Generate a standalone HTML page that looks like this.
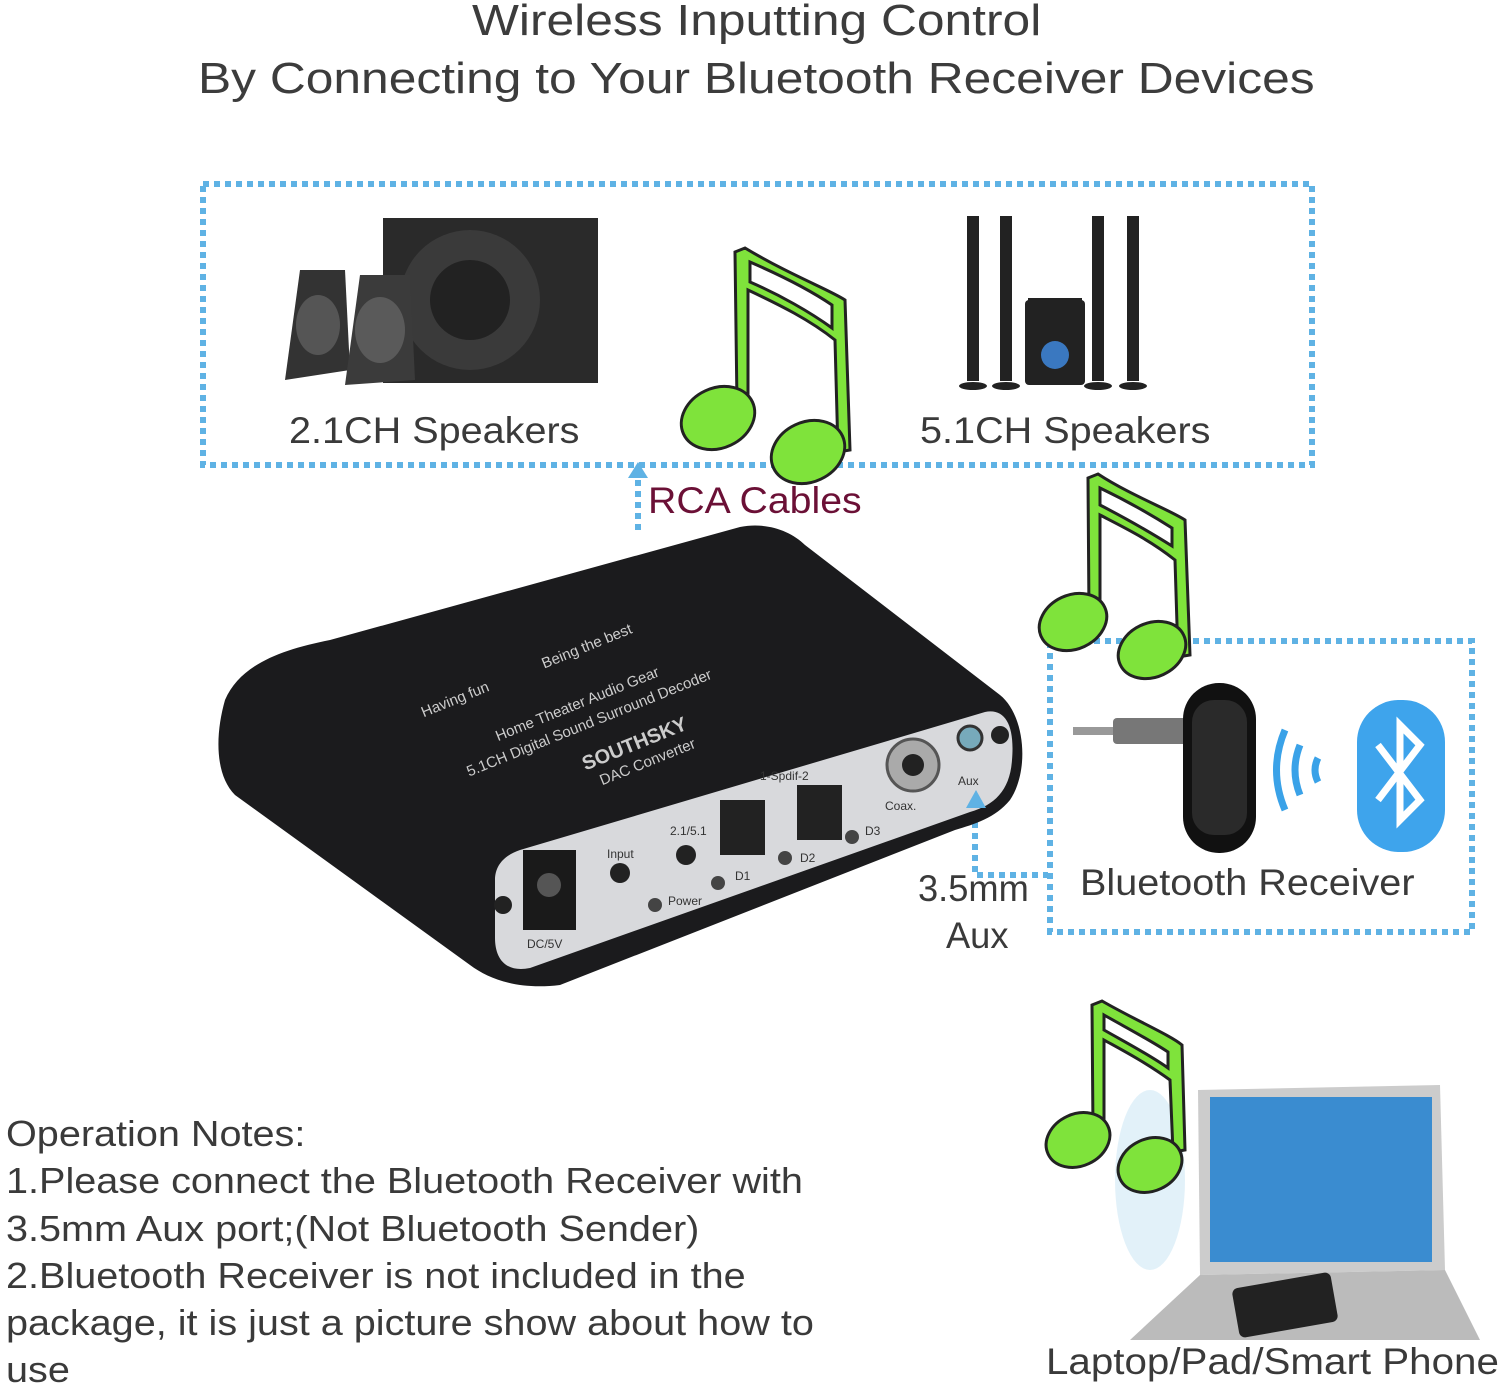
<!DOCTYPE html>
<html><head><meta charset="utf-8"><style>
body{margin:0;background:#fff;}
.c{position:relative;width:1500px;height:1390px;overflow:hidden;font-family:"Liberation Sans",sans-serif;color:#3a3a3a;}
.t{position:absolute;white-space:nowrap;transform-origin:0 0;}
</style></head><body><div class="c">
<div class="t" style="left:472px;top:-4px;font-size:44px;color:#3c3c3c;transform:scaleX(1.13)">Wireless Inputting Control</div>
<div class="t" style="left:198px;top:54px;font-size:44px;color:#3c3c3c;transform:scaleX(1.13)">By Connecting to Your Bluetooth Receiver Devices</div>
<svg width="1500" height="1390" style="position:absolute;left:0;top:0">
<g stroke="#5fb2e4" stroke-width="6" stroke-dasharray="6 5" fill="none">
<rect x="203" y="184" width="1109" height="281"/>
<rect x="1050" y="641" width="422" height="291"/>
<path d="M638,530 L638,470"/>
<path d="M975,800 L975,875 L1048,875"/>
</g>
<path d="M628,478 L638,462 L648,478Z" fill="#5fb2e4"/>
<!-- speakers 2.1 -->
<rect x="383" y="218" width="215" height="165" fill="#2a2a2a"/>
<circle cx="470" cy="300" r="70" fill="#3a3a3a"/><circle cx="470" cy="300" r="40" fill="#222"/>
<path d="M300,270 L345,270 L350,370 L285,380Z" fill="#333"/>
<ellipse cx="318" cy="325" rx="22" ry="30" fill="#555"/>
<path d="M360,275 L410,275 L415,380 L345,385Z" fill="#3b3b3b"/>
<ellipse cx="380" cy="330" rx="25" ry="33" fill="#5a5a5a"/>
<!-- 5.1 speakers -->
<g fill="#222">
<rect x="967" y="216" width="12" height="165"/><rect x="1000" y="216" width="12" height="165"/>
<rect x="1092" y="216" width="12" height="165"/><rect x="1127" y="216" width="12" height="165"/>
<ellipse cx="973" cy="386" rx="14" ry="4"/><ellipse cx="1006" cy="386" rx="14" ry="4"/>
<ellipse cx="1098" cy="386" rx="14" ry="4"/><ellipse cx="1133" cy="386" rx="14" ry="4"/>
<rect x="1025" y="300" width="60" height="85" rx="4"/><rect x="1028" y="298" width="54" height="18"/>
</g>
<circle cx="1055" cy="355" r="14" fill="#3a78c0"/>
<!-- device -->
<path d="M225,700 C240,665 280,650 330,640 L740,527 C765,522 790,530 805,545 L1000,695 C1025,715 1030,770 1010,800 C995,818 975,824 955,830 L560,985 C520,990 490,980 470,965 L235,795 C215,775 215,735 225,700Z" fill="#1b1b1d"/>
<path d="M520,850 L985,712 C1005,708 1015,725 1012,760 C1010,790 995,805 970,812 L530,968 C505,973 495,958 495,938 L495,880 C495,865 505,855 520,850Z" fill="#d8d9dc"/>
<rect x="523" y="850" width="53" height="80" fill="#1a1a1a"/><circle cx="549" cy="885" r="12" fill="#555"/>
<rect x="720" y="800" width="45" height="55" fill="#222"/><rect x="797" y="785" width="45" height="55" fill="#222"/>
<circle cx="913" cy="765" r="26" fill="#aaa" stroke="#555" stroke-width="3"/><circle cx="913" cy="765" r="11" fill="#222"/>
<circle cx="970" cy="738" r="12" fill="#7ab" stroke="#333" stroke-width="3"/>
<circle cx="1000" cy="735" r="9" fill="#222"/><circle cx="503" cy="905" r="9" fill="#222"/>
<circle cx="620" cy="873" r="10" fill="#222"/><circle cx="686" cy="855" r="10" fill="#222"/>
<circle cx="655" cy="905" r="7" fill="#444"/><circle cx="718" cy="883" r="7" fill="#444"/><circle cx="785" cy="858" r="7" fill="#444"/><circle cx="852" cy="837" r="7" fill="#444"/>
<g fill="#ccc" font-size="15" font-family="Liberation Sans" transform="rotate(-22 600 700)">
<text x="430" y="650">Having fun</text><text x="560" y="650">Being the best</text>
<text x="490" y="700">Home Theater Audio Gear</text><text x="450" y="722">5.1CH Digital Sound Surround Decoder</text>
<text x="560" y="760" font-size="20" font-weight="bold">SOUTHSKY</text><text x="570" y="780">DAC Converter</text>
</g>
<g fill="#333" font-size="12" font-family="Liberation Sans"><text x="527" y="948">DC/5V</text><text x="607" y="858">Input</text><text x="670" y="835">2.1/5.1</text><text x="760" y="780">1-Spdif-2</text><text x="885" y="810">Coax.</text><text x="668" y="905">Power</text><text x="735" y="880">D1</text><text x="800" y="862">D2</text><text x="865" y="835">D3</text><text x="958" y="785">Aux</text></g>
<path d="M966,808 L976,790 L986,808Z" fill="#5fb2e4"/>
<!-- music notes -->
<g fill="#7fe33b" stroke="#222" stroke-width="3">
<path d="M735,252 L745,248 C790,275 830,290 845,300 L850,450 L838,452 L835,340 C810,320 780,305 748,290 L748,405 L737,405Z"/>
<path d="M750,262 L750,282 C780,295 810,312 832,328 L832,305 C810,290 780,275 750,262Z" fill="#fff"/>
<ellipse cx="718" cy="418" rx="38" ry="30" transform="rotate(-25 718 418)"/>
<ellipse cx="808" cy="452" rx="38" ry="30" transform="rotate(-25 808 452)"/>
<path d="M1088,478 L1098,474 C1130,495 1170,510 1185,520 L1190,655 L1178,657 L1175,560 C1150,540 1125,528 1100,515 L1100,615 L1089,615Z"/>
<path d="M1100,488 L1100,505 C1125,518 1150,532 1172,546 L1172,528 C1150,514 1125,500 1100,488Z" fill="#fff"/>
<ellipse cx="1073" cy="622" rx="35" ry="27" transform="rotate(-25 1073 622)"/>
<ellipse cx="1152" cy="650" rx="35" ry="27" transform="rotate(-25 1152 650)"/>
</g>
<!-- laptop -->
<ellipse cx="1150" cy="1180" rx="35" ry="90" fill="#d6ebf7" opacity="0.7"/>
<path d="M1198,1090 L1440,1085 L1445,1270 L1200,1275Z" fill="#ccc"/>
<rect x="1210" y="1097" width="222" height="165" fill="#3a8cd0"/>
<path d="M1200,1275 L1445,1270 L1480,1340 L1130,1340Z" fill="#bbb"/>
<rect x="1235" y="1280" width="100" height="50" rx="6" fill="#222" transform="rotate(-10 1285 1305)"/>
<g fill="#7fe33b" stroke="#222" stroke-width="3">
<path d="M1092,1005 L1102,1001 C1135,1020 1170,1035 1182,1045 L1185,1150 L1173,1152 L1170,1080 C1145,1062 1122,1050 1104,1040 L1104,1130 L1093,1130Z"/>
<path d="M1104,1015 L1104,1030 C1125,1042 1150,1055 1168,1068 L1168,1052 C1150,1040 1125,1027 1104,1015Z" fill="#fff"/>
<ellipse cx="1078" cy="1140" rx="33" ry="26" transform="rotate(-25 1078 1140)"/>
<ellipse cx="1150" cy="1165" rx="33" ry="26" transform="rotate(-25 1150 1165)"/>
</g>
<!-- bluetooth receiver -->
<rect x="1073" y="727" width="40" height="8" fill="#999"/><rect x="1113" y="718" width="75" height="26" rx="4" fill="#777"/>
<rect x="1183" y="683" width="73" height="170" rx="36" fill="#111"/>
<rect x="1192" y="700" width="55" height="135" rx="22" fill="#2a2a2a"/>
<g stroke="#3aa2e8" stroke-width="7" fill="none"><path d="M1300,745 Q1290,770 1300,795"/><path d="M1285,730 Q1268,770 1285,810"/><path d="M1318,758 Q1312,770 1318,782"/></g>
<rect x="1357" y="700" width="88" height="152" rx="42" fill="#3ea4ec"/>
<path d="M1378,745 L1420,800 L1400,820 L1400,725 L1420,745 L1378,800" stroke="#fff" stroke-width="7" fill="none"/>
</svg>
<div class="t" style="left:289px;top:410px;font-size:37px;transform:scaleX(1.07)">2.1CH Speakers</div>
<div class="t" style="left:920px;top:410px;font-size:37px;transform:scaleX(1.07)">5.1CH Speakers</div>
<div class="t" style="left:648px;top:480px;font-size:37px;color:#6b1036;transform:scaleX(1.06)">RCA Cables</div>
<div class="t" style="left:1080px;top:862px;font-size:37px;transform:scaleX(1.07)">Bluetooth Receiver</div>
<div class="t" style="left:918px;top:868px;font-size:37px;transform:scaleX(0.98)">3.5mm</div>
<div class="t" style="left:946px;top:915px;font-size:37px;transform:scaleX(0.98)">Aux</div>
<div class="t" style="left:6px;top:1110px;font-size:36px;line-height:47.3px;transform:scaleX(1.1)">Operation Notes:<br>1.Please connect the Bluetooth Receiver with<br>3.5mm Aux port;(Not Bluetooth Sender)<br>2.Bluetooth Receiver is not included in the<br>package, it is just a picture show about how to<br>use</div>
<div class="t" style="left:1046px;top:1341px;font-size:37px;transform:scaleX(1.09)">Laptop/Pad/Smart Phone</div>
</div></body></html>
